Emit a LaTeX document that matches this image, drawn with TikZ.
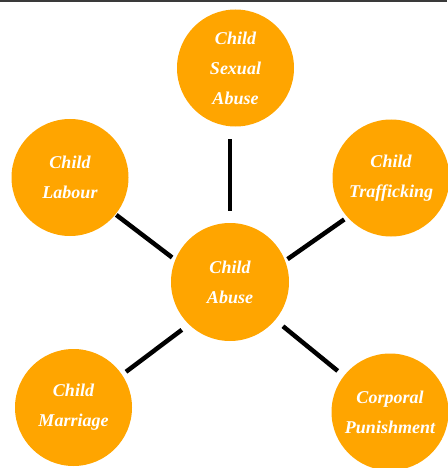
\documentclass[tikz,border=0pt]{standalone}
\usepackage{fontspec}
\setmainfont{Liberation Serif}
\definecolor{topicfill}{HTML}{FFA500}
\definecolor{rulegray}{HTML}{3A3A3A}
\begin{document}
\begin{tikzpicture}[x=1pt,y=-1pt,
  topic/.style={circle,fill=topicfill,draw=none,inner sep=0pt,outer sep=0pt,
    minimum size=#1,text=white,align=center,
    font=\fontsize{18}{30}\selectfont\bfseries\itshape},
  topic/.default=117pt,
  link/.style={line width=4.5pt,black}]
\useasboundingbox (0,0) rectangle (447,468);
% thin rule along the top edge
\fill[rulegray] (0,0) rectangle (447,1.8);

% central topic and the five forms around it
\node[topic=118pt] (abuse)    at (230,282)   {Child\\Abuse};
\node[topic]       (sexual)   at (235.5,68)  {Child\\Sexual\\Abuse};
\node[topic]       (labour)   at (70,177.5)  {Child\\Labour};
\node[topic]       (traffic)  at (391,178)   {Child\\Trafficking};
\node[topic]       (marriage) at (73.5,407.5){Child\\Marriage};
\node[topic]       (punish)   at (390,412)   {Corporal\\Punishment};

% spokes
\draw[link,shorten <=12.5pt,shorten >=12pt] (sexual.south -| abuse.center) -- (abuse.north);
\draw[link,shorten <=1pt,shorten >=4pt] (labour.-39) -- (abuse.158);
\draw[link,shorten <=3pt,shorten >=4pt] (abuse.21) -- (traffic.222);
\draw[link,shorten <=5pt,shorten >=9pt] (marriage.34) -- (abuse.226);
\draw[link,shorten <=10pt,shorten >=8pt] (abuse.-40) -- (punish.142);
\end{tikzpicture}
\end{document}
